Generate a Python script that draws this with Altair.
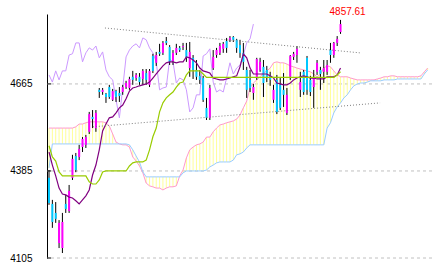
import altair as alt
import pandas as pd

# ---- candle data (index = trading day) ----
opens = [4363, 4279, 4250, 4153, 4137, 4279, 4256, 4363, 4433, 4430,
         4462, 4469, 4511, 4559, 4523, 4646, 4639, 4633, 4655, 4614,
         4642, 4636, 4639, 4655, 4652, 4688, 4684, 4688, 4681, 4700,
         4662, 4755, 4733, 4768, 4765, 4803, 4784, 4739, 4765, 4781,
         4784, 4774, 4716, 4749, 4710, 4691, 4684, 4588, 4556, 4716,
         4758, 4765, 4778, 4803, 4807, 4816, 4807, 4790, 4765, 4710,
         4678, 4636, 4684, 4710, 4720, 4710, 4691, 4614, 4678, 4662,
         4646, 4572, 4688, 4752, 4758, 4646, 4704, 4749, 4678, 4655,
         4704, 4710, 4704, 4704, 4774, 4758, 4797, 4832]
highs = [4388, 4292, 4285, 4227, 4250, 4308, 4340, 4437, 4443, 4469,
         4494, 4501, 4575, 4581, 4581, 4652, 4652, 4636, 4662, 4649,
         4646, 4655, 4662, 4675, 4688, 4707, 4700, 4700, 4713, 4713,
         4713, 4762, 4768, 4794, 4803, 4816, 4790, 4774, 4794, 4787,
         4797, 4797, 4800, 4758, 4742, 4710, 4691, 4620, 4662, 4774,
         4781, 4797, 4800, 4813, 4819, 4819, 4810, 4807, 4797, 4720,
         4710, 4665, 4749, 4749, 4742, 4723, 4704, 4662, 4694, 4684,
         4700, 4652, 4758, 4768, 4787, 4704, 4710, 4755, 4691, 4710,
         4742, 4720, 4742, 4742, 4797, 4800, 4819, 4871]
lows = [4276, 4202, 4218, 4137, 4121, 4250, 4250, 4356, 4381, 4420,
        4446, 4459, 4504, 4523, 4511, 4620, 4630, 4604, 4617, 4610,
        4607, 4607, 4630, 4649, 4646, 4662, 4675, 4662, 4662, 4662,
        4655, 4700, 4723, 4755, 4758, 4790, 4726, 4726, 4758, 4768,
        4774, 4736, 4688, 4681, 4678, 4665, 4607, 4549, 4549, 4710,
        4749, 4758, 4765, 4765, 4800, 4800, 4765, 4749, 4710, 4620,
        4639, 4614, 4678, 4704, 4623, 4671, 4659, 4604, 4568, 4581,
        4591, 4565, 4678, 4742, 4733, 4623, 4630, 4630, 4626, 4588,
        4694, 4646, 4668, 4694, 4733, 4749, 4787, 4826]
closes = [4282, 4221, 4231, 4218, 4221, 4263, 4321, 4424, 4388, 4456,
          4488, 4494, 4568, 4552, 4572, 4639, 4646, 4623, 4623, 4642,
          4623, 4626, 4655, 4668, 4681, 4678, 4694, 4671, 4707, 4678,
          4707, 4707, 4758, 4762, 4797, 4797, 4736, 4765, 4781, 4774,
          4787, 4749, 4768, 4710, 4688, 4678, 4614, 4556, 4652, 4752,
          4774, 4787, 4794, 4781, 4813, 4807, 4781, 4765, 4736, 4646,
          4652, 4655, 4745, 4736, 4668, 4684, 4678, 4646, 4575, 4588,
          4630, 4630, 4755, 4762, 4778, 4671, 4639, 4646, 4639, 4684,
          4733, 4697, 4716, 4726, 4758, 4797, 4810, 4857.61]

# ---- ichimoku lines ----
tenkan = [4446, 4404, 4369, 4330, 4311, 4308, 4301, 4298, 4289, 4279,
          4292, 4305, 4324, 4372, 4404, 4453, 4514, 4536, 4556, 4559,
          4572, 4588, 4597, 4617, 4642, 4652, 4655, 4659, 4662, 4665,
          4671, 4684, 4697, 4710, 4723, 4733, 4736, 4736, 4733, 4736,
          4736, 4752, 4749, 4742, 4733, 4716, 4707, 4704, 4700, 4684,
          4681, 4678, 4678, 4681, 4684, 4688, 4691, 4720, 4762, 4749,
          4716, 4697, 4697, 4697, 4697, 4697, 4691, 4684, 4668, 4665,
          4662, 4662, 4668, 4678, 4684, 4688, 4691, 4688, 4684, 4684,
          4681, 4681, 4681, 4688, 4688, 4688, 4694, 4716]
kijun = [4466, 4430, 4417, 4382, 4369, 4369, 4369, 4369, 4369, 4369,
         4369, 4369, 4350, 4343, 4343, 4356, 4382, 4385, 4385, 4385,
         4385, 4385, 4385, 4385, 4401, 4411, 4414, 4414, 4414, 4420,
         4453, 4495, 4523, 4575, 4604, 4620, 4630, 4639, 4655, 4668,
         4671, 4694, 4707, 4707, 4707, 4707, 4697, 4686, 4686, 4686,
         4686, 4686, 4686, 4686, 4686, 4686, 4686, 4686, 4686, 4686,
         4686, 4686, 4686, 4686, 4686, 4686, 4686, 4686, 4686, 4686,
         4686, 4686, 4686, 4686, 4686, 4686, 4686, 4686, 4686, 4686,
         4686, 4686, 4686, 4686, 4686, 4686, 4694, 4704]
senkou_a = [4523, 4523, 4523, 4523, 4523, 4523, 4523, 4523, 4527, 4536,
            4536, 4540, 4543, 4543, 4543, 4543, 4543, 4540, 4530, 4504,
            4478, 4472, 4469, 4469, 4462, 4430, 4417, 4401, 4379, 4346,
            4337, 4334, 4330, 4330, 4324, 4330, 4334, 4334, 4337, 4369,
            4388, 4427, 4453, 4462, 4469, 4472, 4478, 4494, 4494, 4511,
            4523, 4533, 4536, 4540, 4543, 4546, 4552, 4565, 4588, 4610,
            4652, 4668, 4678, 4688, 4700, 4707, 4716, 4733, 4736, 4733,
            4733, 4729, 4723, 4720, 4716, 4713, 4710, 4707, 4704, 4697,
            4688, 4697, 4716, 4723, 4720, 4707, 4694, 4688, 4688, 4688,
            4684, 4681, 4678, 4678, 4678, 4678, 4678, 4678, 4681, 4684,
            4688, 4688, 4691, 4691, 4688, 4688, 4688, 4688, 4688, 4688,
            4688, 4691, 4704, 4716]
senkou_b = [4395, 4472, 4472, 4472, 4472, 4472, 4472, 4472, 4472, 4472,
            4472, 4472, 4472, 4472, 4472, 4472, 4472, 4472, 4472, 4472,
            4472, 4472, 4472, 4472, 4469, 4453, 4433, 4414, 4382, 4366,
            4366, 4366, 4366, 4366, 4366, 4366, 4366, 4366, 4366, 4366,
            4379, 4385, 4385, 4385, 4385, 4385, 4385, 4388, 4398, 4404,
            4411, 4414, 4414, 4414, 4414, 4420, 4437, 4440, 4446, 4459,
            4469, 4469, 4469, 4469, 4469, 4469, 4469, 4469, 4469, 4469,
            4469, 4469, 4469, 4469, 4469, 4469, 4469, 4469, 4469, 4469,
            4469, 4469, 4469, 4523, 4540, 4572, 4591, 4604, 4620, 4630,
            4646, 4659, 4665, 4668, 4668, 4671, 4675, 4675, 4675, 4675,
            4678, 4678, 4678, 4678, 4681, 4681, 4681, 4681, 4681, 4681,
            4681, 4681, 4697, 4710]
SHIFT = 26

# ---- trend lines (index, price) ----
trend_names = ["top", "top", "low", "low"]
trend_x = [16.7, 92.8, 13.1, 98.8]
trend_y = [4845, 4765, 4527, 4604]

tick_values = [4105, 4385, 4665]

n = len(closes)
cdf = pd.DataFrame({"i": list(range(n)), "open": opens, "high": highs,
                    "low": lows, "close": closes})
cdf["dir"] = ["up" if c >= o else "down" for o, c in zip(opens, closes)]
cloud = pd.DataFrame({"i": list(range(len(senkou_a))), "a": senkou_a, "b": senkou_b})
ldf = pd.DataFrame({"i": list(range(n)), "tenkan": tenkan, "kijun": kijun})
chikou = pd.DataFrame({"i": [k - SHIFT for k in range(SHIFT, n)], "v": closes[SHIFT:]})
trend = pd.DataFrame({"line": trend_names, "i": trend_x, "v": trend_y})
ticks = pd.DataFrame({"v": tick_values})
last = pd.DataFrame({"i": [n - 1], "v": [highs[-1]], "t": [f"{closes[-1]:.2f}"]})

xs = alt.Scale(domain=[-0.6, 114.3], nice=False, zero=False, padding=0)
ys = alt.Scale(domain=[4105, 4890], nice=False, zero=False, padding=0)
AX = alt.Axis(values=tick_values, ticks=False, tickSize=0, grid=False,
              domainColor="black", domainWidth=1, labelColor="black",
              labelFont="Liberation Sans", labelFontSize=10,
              labelPadding=15, format="d", title=None)


def X():
    return alt.X("i:Q", scale=xs, axis=None)


def Y(f):
    return alt.Y(f"{f}:Q", scale=ys, axis=AX, title=None)


grid = alt.Chart(ticks).mark_rule(color="#c0c0c0", strokeDash=[3, 3], strokeWidth=1).encode(
    y=Y("v"))
tickmarks = alt.Chart(ticks).mark_rule(color="black", strokeWidth=1).encode(
    y=Y("v"), x=alt.value(0), x2=alt.value(4))

stripes = alt.Chart(cloud).mark_rule(color="#ffff99", strokeWidth=1).encode(
    x=X(), y=Y("a"), y2="b")
span_a = alt.Chart(cloud).mark_line(color="#ff99cc", strokeWidth=1).encode(x=X(), y=Y("a"))
span_b = alt.Chart(cloud).mark_line(color="#99ccff", strokeWidth=1).encode(x=X(), y=Y("b"))

lag = alt.Chart(chikou).mark_line(color="#cc99ff", strokeWidth=1).encode(x=X(), y=Y("v"))

wick = alt.Chart(cdf).mark_rule(color="black", strokeWidth=1).encode(
    x=X(), y=Y("low"), y2="high")
body = alt.Chart(cdf).mark_bar(size=2).encode(
    x=X(), y=Y("open"), y2="close",
    color=alt.Color("dir:N", scale=alt.Scale(domain=["up", "down"],
                                             range=["#ff00ff", "#00c8ff"]), legend=None))

tk = alt.Chart(ldf).mark_line(color="#800080", strokeWidth=1.2).encode(x=X(), y=Y("tenkan"))
kj = alt.Chart(ldf).mark_line(color="#99cc00", strokeWidth=1.2).encode(x=X(), y=Y("kijun"))

tl = alt.Chart(trend).mark_line(color="#808080", strokeDash=[1, 2], strokeWidth=1).encode(
    x=X(), y=Y("v"), detail="line:N")

label = alt.Chart(last).mark_text(color="#ff0000", font="Liberation Sans", fontSize=10,
                                  align="left", baseline="bottom", dx=-11, dy=-3).encode(
    x=X(), y=Y("v"), text="t:N")

chart = alt.layer(grid, stripes, span_a, span_b, lag, wick, body, tk, kj, tl, tickmarks, label).properties(
    width=385, height=244,
    autosize=alt.AutoSizeParams(type="none"),
    padding={"left": 47, "top": 14, "right": 3, "bottom": 13},
    background="white",
).configure_view(stroke=None)

chart.save("out.html", embed_options={"renderer": "svg", "actions": False})
